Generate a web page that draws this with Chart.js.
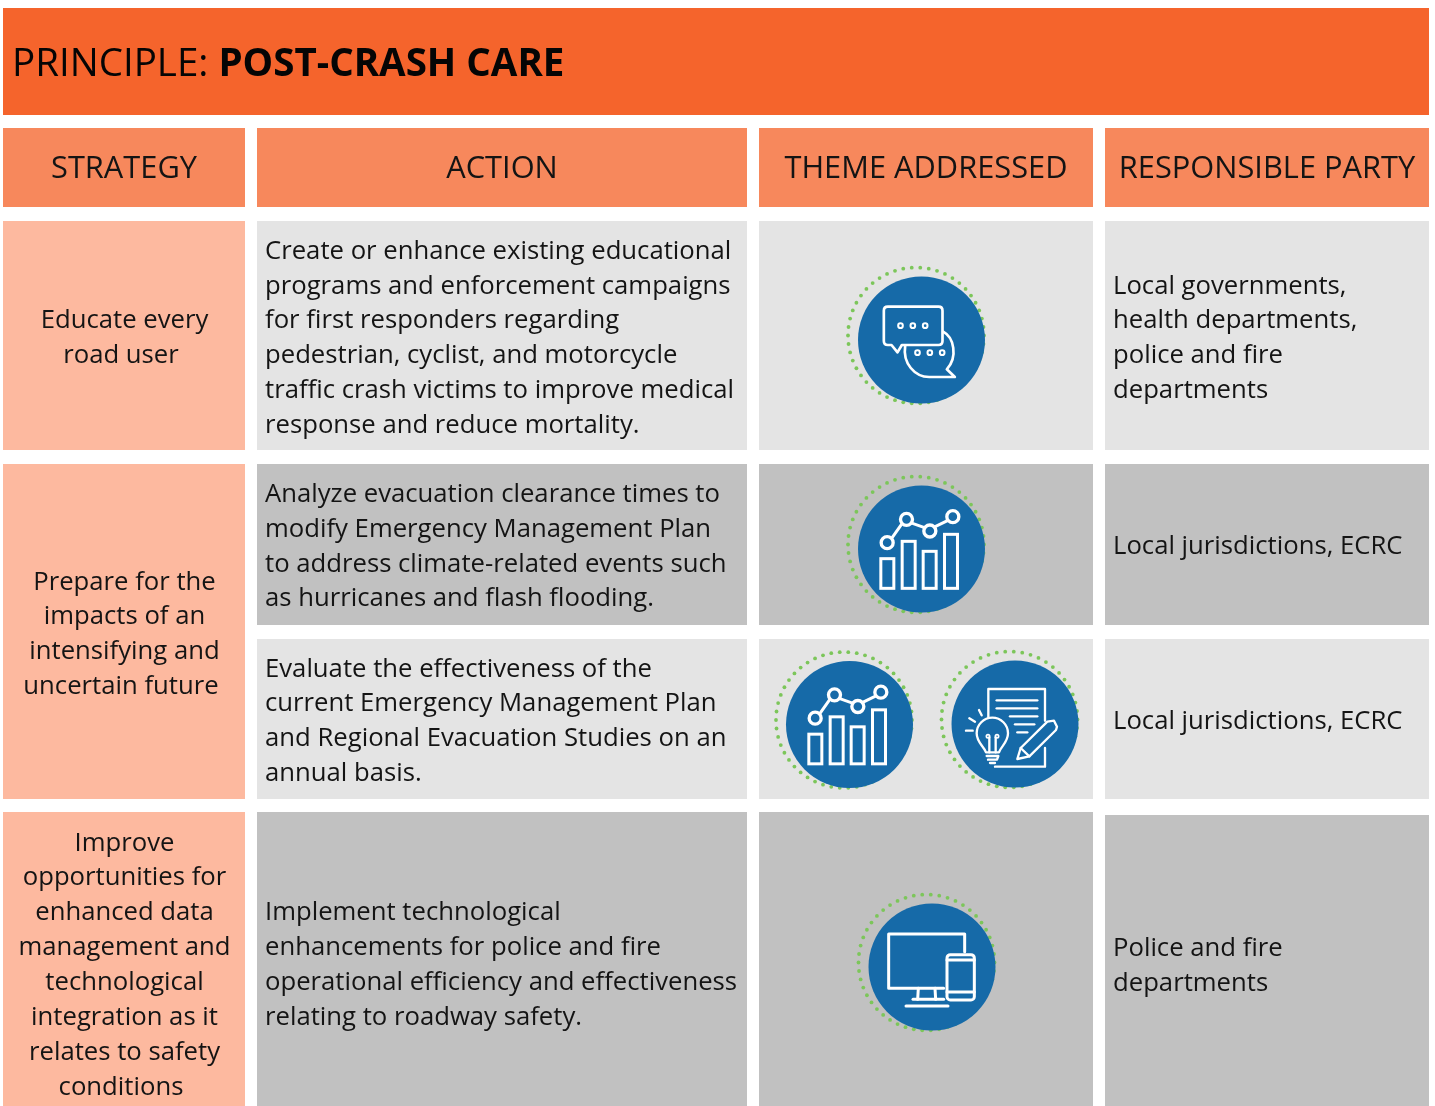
<!DOCTYPE html>
<html>
<head>
<meta charset="utf-8">
<style>
  body { margin: 0; background: #fff; }
  canvas { display: block; }
</style>
<script src="https://cdn.jsdelivr.net/npm/chart.js@4"></script>
</head>
<body>
<canvas id="table" width="1435" height="1106"></canvas>
<script>
// table geometry, used as x / y values on the two linear scales
const columnLeft = [3, 257, 759, 1105]
const columnRight = [245, 747, 1093, 1429]

const titleRow = [8, 115]
const headerRow = [128, 207]
const strategyRows = [[221, 450], [464, 799], [812, 1106]]
const actionRows = [[221, 450], [464, 625], [639, 799], [812, 1106]]
const themeRows = [[221, 450], [464, 625], [639, 799], [812, 1106]]
const partyRows = [[221, 450], [464, 625], [639, 799], [815, 1106]]

const titleLight = 'PRINCIPLE: '
const titleBold = 'POST-CRASH CARE'
const headers = ['STRATEGY', 'ACTION', 'THEME ADDRESSED', 'RESPONSIBLE PARTY']

const strategyText = [
  ['Educate every', 'road user'],
  ['Prepare for the', 'impacts of an', 'intensifying and', 'uncertain future'],
  ['Improve', 'opportunities for', 'enhanced data', 'management and', 'technological', 'integration as it', 'relates to safety', 'conditions']
]
const actionText = [
  ['Create or enhance existing educational', 'programs and enforcement campaigns', 'for first responders regarding', 'pedestrian, cyclist, and motorcycle', 'traffic crash victims to improve medical', 'response and reduce mortality.'],
  ['Analyze evacuation clearance times to', 'modify Emergency Management Plan', 'to address climate-related events such', 'as hurricanes and flash flooding.'],
  ['Evaluate the effectiveness of the', 'current Emergency Management Plan', 'and Regional Evacuation Studies on an', 'annual basis.'],
  ['Implement technological', 'enhancements for police and fire', 'operational efficiency and effectiveness', 'relating to roadway safety.']
]
const partyText = [
  ['Local governments,', 'health departments,', 'police and fire', 'departments'],
  ['Local jurisdictions, ECRC'],
  ['Local jurisdictions, ECRC'],
  ['Police and fire', 'departments']
]

// vertical middle of each text block, the blocks are not centred in their cells
const titleMid = 65
const headerMid = 169.5
const strategyMid = [338.5, 634.5, 965.3]
const actionMid = [338.5, 546.8, 721.5, 965]
const partyMid = [338.5, 546.8, 721.5, 966.3]

const iconX = [921.5, 921.5, 849.5, 1015, 932]
const iconY = [340, 549, 724.5, 724, 967]
const iconKind = ['chat', 'chart', 'chart', 'plan', 'devices']

const inkColor = '#141414'
const fontName = '"Open Sans", sans-serif'

// the big discs would otherwise make chart.js shrink the plot area to fit them
class DiscController extends Chart.ScatterController {
  getMaxOverflow() {
    return 0
  }
}
DiscController.id = 'disc'
DiscController.defaults = {}
Chart.register(DiscController)

function centerOf(col) {
  return (columnLeft[col] + columnRight[col]) / 2
}

function cellDataset(col, rows, color, order) {
  return {
    type: 'bar',
    data: rows.map(r => ({ x: centerOf(col), y: r })),
    barThickness: columnRight[col] - columnLeft[col],
    backgroundColor: color,
    grouped: false,
    inflateAmount: 0,
    order: order
  }
}

// zoom crops were 3x, so glyphs are typed in crop pixels and scaled down
function glyph(ctx, cx, cy, ox, oy, draw) {
  ctx.save()
  ctx.translate(cx, cy)
  ctx.scale(1 / 3, 1 / 3)
  ctx.translate(-ox, -oy)
  ctx.strokeStyle = '#fff'
  ctx.lineWidth = 8
  ctx.lineJoin = 'round'
  ctx.lineCap = 'round'
  draw()
  ctx.restore()
}

function path(ctx, pts) {
  ctx.beginPath()
  pts.forEach((p, i) => i ? ctx.lineTo(p[0], p[1]) : ctx.moveTo(p[0], p[1]))
  ctx.stroke()
}

function ringDot(ctx, x, y, r) {
  ctx.beginPath()
  ctx.arc(x, y, r, 0, Math.PI * 2)
  ctx.stroke()
}

const glyphs = {
  chat(ctx, cx, cy) {
    glyph(ctx, cx, cy, 275, 270, () => {
      ctx.beginPath()
      ctx.moveTo(185, 285)
      ctx.lineTo(174, 285)
      ctx.quadraticCurveTo(162, 285, 162, 273)
      ctx.lineTo(162, 182)
      ctx.quadraticCurveTo(162, 170, 174, 170)
      ctx.lineTo(326, 170)
      ctx.quadraticCurveTo(338, 170, 338, 182)
      ctx.lineTo(338, 273)
      ctx.quadraticCurveTo(338, 285, 326, 285)
      ctx.lineTo(216, 285)
      ctx.lineTo(203, 307)
      ctx.closePath()
      ctx.stroke()
      ctx.beginPath()
      ctx.moveTo(340, 245)
      ctx.bezierCurveTo(372, 262, 385, 320, 351, 358)
      ctx.lineTo(375, 381)
      ctx.lineTo(298, 381)
      ctx.bezierCurveTo(255, 381, 218, 340, 226, 288)
      ctx.stroke()
      ctx.lineWidth = 6
      ;[[212, 227], [249, 227], [286, 227], [263, 308], [300, 308], [337, 308]].forEach(p => ringDot(ctx, p[0], p[1], 7))
    })
  },
  chart(ctx, cx, cy) {
    glyph(ctx, cx, cy, 275, 252, () => {
      ctx.lineWidth = 9
      ctx.lineJoin = 'miter'
      ctx.strokeRect(153, 281, 39, 89)
      ctx.strokeRect(217, 229, 39, 141)
      ctx.strokeRect(280, 259, 39, 111)
      ctx.strokeRect(344, 208, 39, 162)
      path(ctx, [[187, 218], [215, 178]])
      path(ctx, [[248, 175], [282, 187]])
      path(ctx, [[316, 185], [353, 167]])
      ctx.lineWidth = 10
      ;[[172, 233], [230, 163], [300, 198], [369, 155]].forEach(p => ringDot(ctx, p[0], p[1], 18))
    })
  },
  plan(ctx, cx, cy) {
    glyph(ctx, cx, cy, 255, 250, () => {
      ctx.lineWidth = 7
      path(ctx, [[175, 230], [175, 145], [345, 145], [345, 240]])
      path(ctx, [[345, 322], [345, 378], [195, 378]])
      path(ctx, [[200, 179], [322, 179]])
      path(ctx, [[200, 203], [322, 203]])
      path(ctx, [[240, 227], [322, 227]])
      path(ctx, [[255, 251], [313, 251]])
      path(ctx, [[262, 275], [292, 275]])
      // pencil
      path(ctx, [[262, 355], [272, 322], [352, 243], [372, 240], [381, 258], [378, 268], [298, 347], [262, 355]])
      path(ctx, [[272, 322], [298, 347]])
      // bulb
      ctx.beginPath()
      ctx.moveTo(168, 335)
      ctx.bezierCurveTo(160, 315, 140, 305, 140, 278)
      ctx.arc(187, 278, 47, Math.PI, 0)
      ctx.bezierCurveTo(234, 305, 214, 315, 207, 335)
      ctx.closePath()
      ctx.stroke()
      path(ctx, [[170, 346], [205, 346], [201, 357], [174, 357]])
      path(ctx, [[180, 367], [195, 367]])
      path(ctx, [[178, 290], [178, 335]])
      path(ctx, [[197, 290], [197, 335]])
      ctx.lineWidth = 5
      ringDot(ctx, 174, 287, 5)
      ringDot(ctx, 201, 287, 5)
      ctx.lineWidth = 7
      path(ctx, [[108, 270], [128, 270]])
      path(ctx, [[118, 233], [135, 243]])
      path(ctx, [[147, 208], [155, 224]])
    })
  },
  devices(ctx, cx, cy) {
    glyph(ctx, cx, cy, 277, 261, () => {
      ctx.lineWidth = 9
      path(ctx, [[375, 215], [375, 162], [147, 162], [147, 325], [312, 325]])
      path(ctx, [[236, 325], [234, 358]])
      path(ctx, [[286, 325], [288, 358]])
      path(ctx, [[220, 358], [312, 358]])
      path(ctx, [[199, 378], [325, 378]])
      ctx.beginPath()
      ctx.roundRect(322, 224, 82, 136, 10)
      ctx.stroke()
      path(ctx, [[322, 240], [404, 240]])
      path(ctx, [[322, 336], [404, 336]])
    })
  }
}

function lines(ctx, chart, list, x, yMid, align, lastShift) {
  const sx = chart.scales.x, sy = chart.scales.y
  const lh = 34.85
  ctx.textAlign = align
  ctx.textBaseline = 'middle'
  list.forEach((t, i) => {
    const y = yMid - (list.length - 1) * lh / 2 + i * lh
    const nudge = lastShift && i === list.length - 1 ? lastShift : 0
    ctx.fillText(t, sx.getPixelForValue(x + nudge), sy.getPixelForValue(y))
  })
}

const tablePlugin = {
  id: 'tablePlugin',
  beforeDatasetDraw(chart, args) {
    // dotted rings sit under the blue discs, so draw them just before the discs
    if (args.index !== 0) return
    const ctx = chart.ctx, sx = chart.scales.x, sy = chart.scales.y
    ctx.save()
    ctx.fillStyle = '#7cc65a'
    iconX.forEach((x, k) => {
      const cx = sx.getPixelForValue(x - 5.5), cy = sy.getPixelForValue(iconY[k] - 4.5)
      for (let a = 0; a < 50; a++) {
        const t = a / 50 * Math.PI * 2
        ctx.beginPath()
        ctx.arc(cx + 68 * Math.cos(t), cy + 68 * Math.sin(t), 1.9, 0, Math.PI * 2)
        ctx.fill()
      }
    })
    ctx.restore()
  },
  afterDatasetsDraw(chart) {
    const ctx = chart.ctx, sx = chart.scales.x, sy = chart.scales.y
    ctx.save()
    ctx.fillStyle = '#050505'

    // title
    ctx.textAlign = 'left'
    ctx.textBaseline = 'middle'
    ctx.font = '38.5px ' + fontName
    const tx = sx.getPixelForValue(12), ty = sy.getPixelForValue(titleMid)
    ctx.fillText(titleLight, tx, ty)
    const w = ctx.measureText(titleLight).width
    ctx.font = 'bold 38.5px ' + fontName
    ctx.fillText(titleBold, tx + w, ty)

    // headers
    ctx.fillStyle = inkColor
    ctx.font = '30.8px ' + fontName
    ctx.textAlign = 'center'
    headers.forEach((h, i) => {
      ctx.fillText(h, sx.getPixelForValue(centerOf(i)), sy.getPixelForValue(headerMid))
    })

    // body text
    ctx.font = '25.7px ' + fontName
    strategyText.forEach((l, i) => {
      lines(ctx, chart, l, 124.5, strategyMid[i], 'center', -3.5)
    })
    actionText.forEach((l, i) => {
      lines(ctx, chart, l, 265, actionMid[i], 'left')
    })
    partyText.forEach((l, i) => {
      lines(ctx, chart, l, 1113, partyMid[i], 'left')
    })
    ctx.restore()

    iconX.forEach((x, k) => {
      glyphs[iconKind[k]](ctx, sx.getPixelForValue(x), sy.getPixelForValue(iconY[k]))
    })
  }
}

const rowGreys = ['#e4e4e4', '#c1c1c1', '#e4e4e4', '#c1c1c1']

new Chart(document.getElementById('table'), {
  data: {
    datasets: [
      {
        type: 'disc',
        data: iconX.map((x, i) => ({ x: x, y: iconY[i] })),
        backgroundColor: '#166aa8',
        borderWidth: 0,
        pointRadius: 63.5,
        order: 0
      },
      {
        type: 'bar',
        data: [{ x: (columnLeft[0] + columnRight[3]) / 2, y: titleRow }],
        barThickness: columnRight[3] - columnLeft[0],
        backgroundColor: '#f5642c',
        grouped: false,
        inflateAmount: 0,
        order: 1
      },
      ...headers.map((h, i) => cellDataset(i, [headerRow], '#f7885c', 1)),
      cellDataset(0, strategyRows, '#fdb99f', 1),
      cellDataset(1, actionRows, rowGreys, 1),
      cellDataset(2, themeRows, rowGreys, 1),
      cellDataset(3, partyRows, rowGreys, 1)
    ]
  },
  options: {
    responsive: false,
    animation: false,
    layout: { padding: 0 },
    plugins: {
      legend: { display: false },
      tooltip: { enabled: false }
    },
    scales: {
      x: { type: 'linear', min: 0, max: 1435, display: false, offset: false },
      y: { type: 'linear', min: 0, max: 1106, reverse: true, display: false }
    }
  },
  plugins: [tablePlugin]
})
</script>
</body>
</html>
